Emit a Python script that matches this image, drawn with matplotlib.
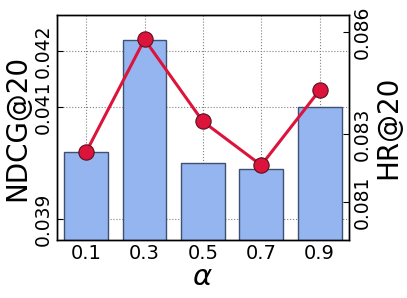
import matplotlib
matplotlib.use("Agg")
import matplotlib.pyplot as plt

alphas = [0.1, 0.3, 0.5, 0.7, 0.9]
x_labels = ["0.1", "0.3", "0.5", "0.7", "0.9"]
ndcg = [0.0402, 0.04220, 0.0400, 0.0399, 0.0410]
hr = [0.08247, 0.08579, 0.08337, 0.08208, 0.08429]
ndcg_ticks = [0.039, 0.041, 0.042]
hr_ticks = [0.081, 0.083, 0.086]

fig = plt.figure(figsize=(4.07, 2.98), dpi=100)
ax = fig.add_axes([0.140, 0.1946, 0.717, 0.755])
ax.bar(alphas, ndcg, width=0.15, color="#94b5ef", edgecolor="#3f5170",
       linewidth=1.0, zorder=2)
ax.set_xlim(0, 1.0)
ax.set_ylim(0.038625, 0.042643)
ax.set_yticks(ndcg_ticks)
ax.set_yticklabels(["0.039", "0.041", "0.042"], rotation=90, va="center", fontsize=13.5)
ax.set_xticks(alphas)
ax.set_xticklabels(x_labels, fontsize=14)
ax.tick_params(direction="in", length=4, pad=3)
ax.grid(True, linestyle=":", color="gray", linewidth=0.8, zorder=0)
ax.set_axisbelow(True)
ax.set_ylabel("NDCG@20", fontsize=20, labelpad=2)
ax.set_xlabel(r"$\alpha$", fontsize=21, labelpad=0)

ax2 = ax.twinx()
ax2.plot(alphas, hr, color="#dc143c", linewidth=2.2, marker="o", markersize=11,
         markerfacecolor="#dc143c", markeredgecolor="#5a1020", markeredgewidth=0.8,
         zorder=3)
ax2.set_ylim(0.079874, 0.086509)
ax2.set_yticks(hr_ticks)
ax2.set_yticklabels(["0.081", "0.083", "0.086"], rotation=90, va="center", fontsize=13.5)
ax2.tick_params(direction="in", length=4, pad=3)
ax2.set_ylabel("HR@20", fontsize=20, labelpad=2)

for a in (ax, ax2):
    for s in a.spines.values():
        s.set_linewidth(1.0)

fig.savefig("out.png", dpi=100)
